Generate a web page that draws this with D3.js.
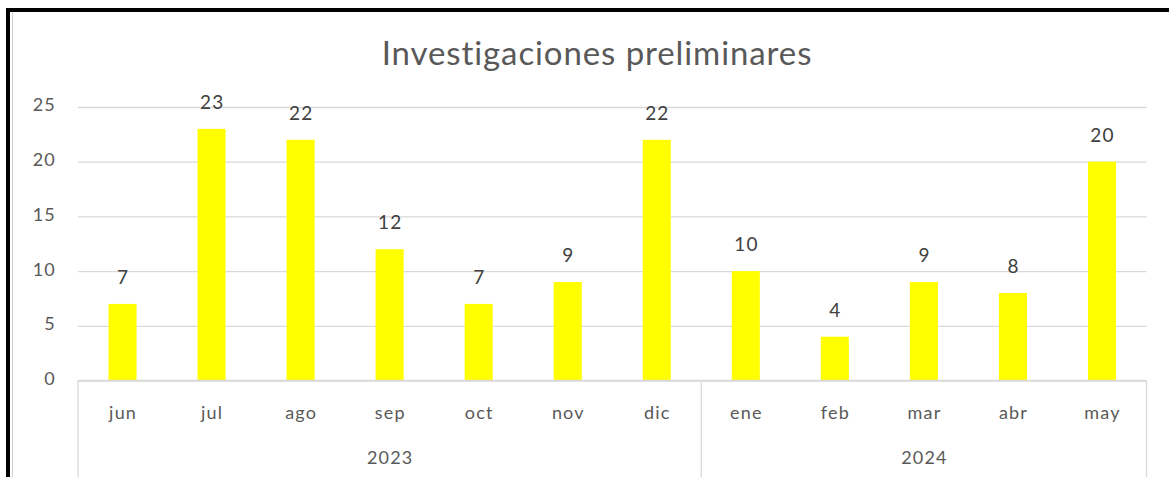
<!DOCTYPE html>
<html><head><meta charset="utf-8">
<script src="https://cdn.jsdelivr.net/npm/d3@7"></script>
<style>html,body{margin:0;padding:0;background:#fff;overflow:hidden}</style>
</head><body>
<script>
const title = "Investigaciones preliminares";
const months = ["jun","jul","ago","sep","oct","nov","dic","ene","feb","mar","abr","may"];
const years = ["2023","2023","2023","2023","2023","2023","2023","2024","2024","2024","2024","2024"];
const values = [7,23,22,12,7,9,22,10,4,9,8,20];
const yTicks = [0,5,10,15,20,25];

(function () {
const W = 1169, H = 477;
const font = "Lato, 'Open Sans', sans-serif";
const svg = d3.select("body").append("svg").attr("width", W).attr("height", H);
svg.append("rect").attr("width", W).attr("height", H).attr("fill", "#fff");

// frame
svg.append("rect").attr("x", 6).attr("y", 8).attr("width", W).attr("height", 4).attr("fill", "#000");
svg.append("rect").attr("x", 6).attr("y", 8).attr("width", 4).attr("height", H).attr("fill", "#000");
svg.append("rect").attr("x", 12).attr("y", 12).attr("width", 1).attr("height", H).attr("fill", "#d0d0d0");

const pLeft = 78, pRight = 1146.5, pTop = 107, pBottom = 380.5;
const cats = months.map((m, i) => i);
const x = d3.scaleBand().domain(cats).range([pLeft, pRight]).paddingInner(0.685).paddingOuter(0.3425);
const y = d3.scaleLinear().domain([0, 25]).range([pBottom, pTop]);

svg.append("text").attr("x", 597).attr("y", 65).attr("text-anchor", "middle")
  .attr("font-family", font).attr("font-size", 33).attr("letter-spacing", 0.9)
  .attr("fill", "#595959").text(title);

// grid
const yAxis = d3.axisLeft(y).tickValues(yTicks).tickSize(-(pRight - pLeft)).tickPadding(22);
const gy = svg.append("g").attr("transform", `translate(${pLeft},0)`).call(yAxis);
gy.select(".domain").remove();
gy.selectAll(".tick line").attr("stroke", "#d9d9d9").attr("stroke-width", 1.3);
gy.selectAll(".tick text").attr("font-family", font).attr("font-size", 18).attr("letter-spacing", 1.2)
  .attr("dy", "0.22em").attr("fill", "#595959");

// bars
svg.selectAll("rect.bar").data(values).join("rect").attr("class", "bar")
  .attr("x", (d, i) => x(i)).attr("width", x.bandwidth())
  .attr("y", d => y(d)).attr("height", d => y(0) - y(d)).attr("fill", "#ffff00");

// data labels
svg.selectAll("text.lbl").data(values).join("text").attr("class", "lbl")
  .attr("x", (d, i) => x(i) + x.bandwidth() / 2 + 0.6).attr("y", d => y(d) - 20)
  .attr("text-anchor", "middle").attr("font-family", font).attr("font-size", 19)
  .attr("letter-spacing", 1.2).attr("fill", "#404040").text(d => d);

// category axis
const step = (pRight - pLeft) / months.length;
svg.append("line").attr("x1", pLeft).attr("x2", pRight).attr("y1", pBottom).attr("y2", pBottom)
  .attr("stroke", "#d9d9d9").attr("stroke-width", 1.3);
svg.selectAll("text.mon").data(months).join("text").attr("class", "mon")
  .attr("x", (d, i) => x(i) + x.bandwidth() / 2 + 0.6).attr("y", 419)
  .attr("text-anchor", "middle").attr("font-family", font).attr("font-size", 18)
  .attr("letter-spacing", 1.2).attr("fill", "#595959").text(d => d);

// year groups
const groups = d3.groups(cats, i => years[i]).map(([yr, idx]) => ({yr, a: d3.min(idx), b: d3.max(idx)}));
const sep = [pLeft, ...groups.map(g => pLeft + (g.b + 1) * step)];
svg.selectAll("line.sep").data(sep).join("line").attr("class", "sep")
  .attr("x1", d => d).attr("x2", d => d).attr("y1", pBottom).attr("y2", H)
  .attr("stroke", "#d9d9d9").attr("stroke-width", 1.3);
svg.selectAll("text.yr").data(groups).join("text").attr("class", "yr")
  .attr("x", g => pLeft + (g.a + g.b + 1) / 2 * step + 0.6).attr("y", 464)
  .attr("text-anchor", "middle").attr("font-family", font).attr("font-size", 18)
  .attr("letter-spacing", 1.2).attr("fill", "#595959").text(g => g.yr);
})();
</script>
</body></html>
